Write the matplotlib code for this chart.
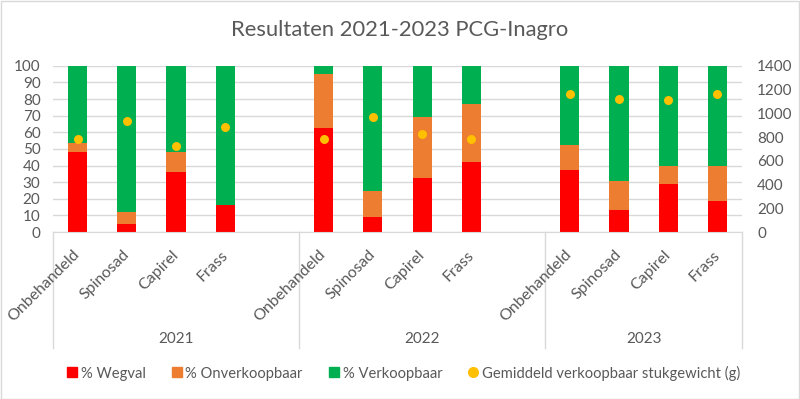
import matplotlib
matplotlib.use("Agg")
import matplotlib.pyplot as plt
from matplotlib.lines import Line2D
from matplotlib.patches import Rectangle
import matplotlib.transforms as mtransforms

# data
years = ["2021", "2022", "2023"]
treatments = ["Onbehandeld", "Spinosad", "Capirel", "Frass"]
wegval = [48.2, 5.0, 36.0, 16.0, 62.3, 8.8, 32.5, 42.3, 37.4, 13.2, 29.0, 18.8]
onverkoopbaar = [5.4, 7.0, 12.0, 0.0, 32.5, 16.0, 36.5, 35.0, 15.0, 17.2, 10.5, 21.0]
verkoopbaar = [46.4, 88.0, 52.0, 84.0, 5.2, 75.2, 31.0, 22.7, 47.6, 69.6, 60.5, 60.2]
stukgewicht = [787, 933, 725, 883, 784, 970, 826, 787, 1161, 1119, 1113, 1166]

RED = "#FF0000"
ORANGE = "#ED7D31"
GREEN = "#00B050"
YELLOW = "#FFC000"
TXT = "#595959"
GRID = "#D9D9D9"

plt.rcParams["font.family"] = ["Lato", "DejaVu Sans"]

# each year takes 5 slots (4 bars + gap), last year has no gap
slot = 5
pos = [g * slot + i for g in range(len(years)) for i in range(len(treatments))]
labels = [t for _ in years for t in treatments]

fig = plt.figure(figsize=(8, 3.99), dpi=100)
ax = fig.add_axes([0.06625, 0.4185, 0.86125, 0.4165])

bot2 = [a + b for a, b in zip(wegval, onverkoopbaar)]
w = 0.39
ax.bar(pos, wegval, w, color=RED, zorder=2)
ax.bar(pos, onverkoopbaar, w, bottom=wegval, color=ORANGE, zorder=2)
ax.bar(pos, verkoopbaar, w, bottom=bot2, color=GREEN, zorder=2)

ax.set_xlim(-0.5, 13.5)
ax.set_ylim(0, 100)
ax.set_yticks(range(0, 101, 10))
ax.yaxis.grid(True, color=GRID, lw=1, zorder=0)
ax.set_axisbelow(True)
ax.tick_params(axis="y", length=0, pad=9, labelsize=11, colors=TXT)
ax.set_xticks([])
for s in ["top", "right", "left"]:
    ax.spines[s].set_visible(False)
ax.spines["bottom"].set_color(GRID)

ax2 = ax.twinx()
ax2.scatter(pos, stukgewicht, s=42, color=YELLOW, zorder=3, linewidths=0)
ax2.set_ylim(0, 1400)
ax2.set_yticks(range(0, 1401, 200))
ax2.tick_params(axis="y", length=0, pad=11, labelsize=11, colors=TXT)
for s in ["top", "right", "left", "bottom"]:
    ax2.spines[s].set_visible(False)

# category labels, rotated
trans = mtransforms.blended_transform_factory(ax.transData, ax.transAxes)
for p, lab in zip(pos, labels):
    ax.text(p - 0.1, -0.095, lab, rotation=45, ha="right", va="top",
            rotation_mode="anchor", transform=trans, fontsize=11.5, color=TXT)

# group separators and year labels
edges = [-0.5, 4.5, 9.5, 13.5]
for x in edges:
    ax.plot([x, x], [0, -0.70], transform=trans, color=GRID, lw=1, clip_on=False)
for g, yr in enumerate(years):
    ax.text((edges[g] + edges[g + 1]) / 2, -0.645, yr, transform=trans,
            ha="center", va="center", fontsize=11, color=TXT)

fig.text(0.5, 0.925, "Resultaten 2021-2023 PCG-Inagro", ha="center", va="center",
         fontsize=15.8, color=TXT)

handles = [
    Line2D([], [], marker="s", ls="", color=RED, markersize=7),
    Line2D([], [], marker="s", ls="", color=ORANGE, markersize=7),
    Line2D([], [], marker="s", ls="", color=GREEN, markersize=7),
    Line2D([], [], marker="o", ls="", color=YELLOW, markersize=7),
]
names = ["% Wegval", "% Onverkoopbaar", "% Verkoopbaar",
         "Gemiddeld verkoopbaar stukgewicht (g)"]
leg = fig.legend(handles, names, loc="center", bbox_to_anchor=(0.503, 0.065), ncol=4,
                 frameon=False, fontsize=10.6, handletextpad=0.1, columnspacing=1.6,
                 handlelength=1.0)
for t in leg.get_texts():
    t.set_color(TXT)

fig.patches.append(Rectangle((0.001, 0.001), 0.998, 0.997, transform=fig.transFigure,
                             fill=False, edgecolor=GRID, lw=1))

fig.savefig("out.png", dpi=100)
